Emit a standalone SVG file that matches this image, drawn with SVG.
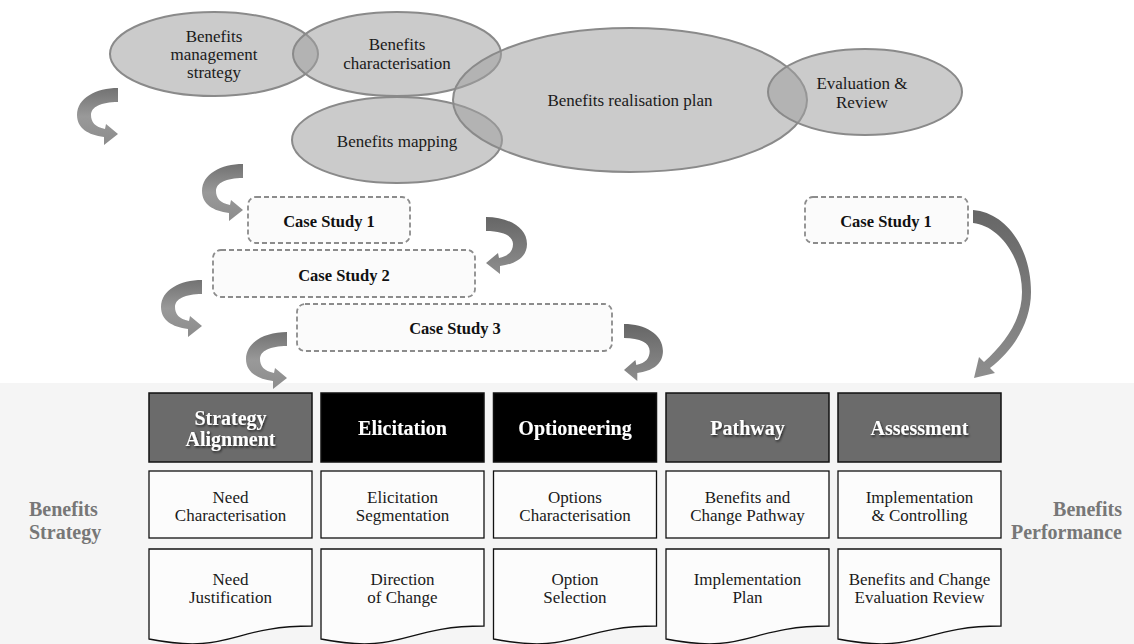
<svg xmlns="http://www.w3.org/2000/svg" width="1134" height="644" viewBox="0 0 1134 644">
  <style>
    .ell { fill: #a0a0a0; fill-opacity: 0.55; stroke: #8a8a8a; stroke-width: 2; }
    .etx { font-family: "Liberation Serif", "Times New Roman", serif; font-size: 17px; fill: #1a1a1a; text-anchor: middle; }
    .cs { fill: #fbfbfb; stroke: #8c8c8c; stroke-width: 1.8; stroke-dasharray: 5 3; }
    .cstx { font-family: "Liberation Serif", "Times New Roman", serif; font-size: 16.5px; font-weight: bold; fill: #111; text-anchor: middle; }
    .hd { stroke: #111; stroke-width: 1.5; }
    .hdgray { fill: #6b6b6b; }
    .hdblack { fill: #000; }
    .hdtx { font-family: "Liberation Serif", "Times New Roman", serif; font-size: 20px; font-weight: bold; fill: #fff; text-anchor: middle; }
    .box { fill: #fcfcfc; stroke: #111; stroke-width: 1.3; }
    .btx { font-family: "Liberation Serif", "Times New Roman", serif; font-size: 17px; fill: #1a1a1a; text-anchor: middle; }
    .side { font-family: "Liberation Serif", "Times New Roman", serif; font-size: 20px; font-weight: bold; fill: #777; }
    .arw { fill: url(#arrowShade); }
    .arwR { fill: url(#arrowShadeDark); }
  </style>
  <defs>
    <linearGradient id="arrowShade" x1="0" y1="0" x2="0" y2="1">
      <stop offset="0" stop-color="#727272"/>
      <stop offset="0.5" stop-color="#999"/>
      <stop offset="1" stop-color="#8c8c8c"/>
    </linearGradient>
    <linearGradient id="arrowShadeDark" x1="0" y1="0" x2="0" y2="1">
      <stop offset="0" stop-color="#666"/>
      <stop offset="1" stop-color="#8e8e8e"/>
    </linearGradient>
    <filter id="txtShadow" x="-10%" y="-20%" width="120%" height="150%">
      <feDropShadow dx="1" dy="1.5" stdDeviation="1" flood-color="#000" flood-opacity="0.7"/>
    </filter>
    <!-- C-shaped curved arrow, tail at origin, head pointing right -->
    <path id="cArrow" d="M0,0 C-22,0 -41,10 -41,27 C-41,40 -30,47 -14,49 L-14,57 L0,46 L-12,36 L-13,41 C-23,39 -27,34 -27,27 C-27,19 -17,14 0,14 Z"/>
  </defs>

  <!-- lower band background -->
  <rect x="0" y="383" width="1134" height="261" fill="#f5f5f5"/>

  <!-- overlapping ellipses -->
  <g id="ellipse-strategy">
    <ellipse class="ell" cx="214" cy="54" rx="104" ry="42"/>
    <text class="etx" x="214" y="42">Benefits</text>
    <text class="etx" x="214" y="60">management</text>
    <text class="etx" x="214" y="78">strategy</text>
  </g>
  <g id="ellipse-characterisation">
    <ellipse class="ell" cx="397" cy="54" rx="104" ry="42"/>
    <text class="etx" x="397" y="50">Benefits</text>
    <text class="etx" x="397" y="69">characterisation</text>
  </g>
  <g id="ellipse-mapping">
    <ellipse class="ell" cx="397" cy="140" rx="105" ry="43"/>
    <text class="etx" x="397" y="147">Benefits mapping</text>
  </g>
  <g id="ellipse-realisation">
    <ellipse class="ell" cx="630" cy="100" rx="177" ry="72"/>
    <text class="etx" x="630" y="106">Benefits realisation plan</text>
  </g>
  <g id="ellipse-evaluation">
    <ellipse class="ell" cx="865" cy="92" rx="97" ry="43"/>
    <text class="etx" x="862" y="89">Evaluation &amp;</text>
    <text class="etx" x="862" y="108">Review</text>
  </g>

  <!-- case study boxes -->
  <g id="case-study-1">
    <rect class="cs" x="248" y="197" width="162" height="46" rx="8"/>
    <text class="cstx" x="329" y="227">Case Study 1</text>
  </g>
  <g id="case-study-2">
    <rect class="cs" x="213" y="250" width="262" height="47" rx="8"/>
    <text class="cstx" x="344" y="281">Case Study 2</text>
  </g>
  <g id="case-study-3">
    <rect class="cs" x="297" y="304" width="315" height="47" rx="8"/>
    <text class="cstx" x="455" y="334">Case Study 3</text>
  </g>
  <g id="case-study-1-right">
    <rect class="cs" x="805" y="197" width="163" height="46" rx="8"/>
    <text class="cstx" x="886" y="227">Case Study 1</text>
  </g>

  <!-- curved arrows -->
  <g id="connectors">
    <use href="#cArrow" class="arw" transform="translate(118,88)"/>
    <use href="#cArrow" class="arw" transform="translate(243,164)"/>
    <use href="#cArrow" class="arw" transform="translate(202,280)"/>
    <use href="#cArrow" class="arw" transform="translate(287,332)"/>
    <use href="#cArrow" class="arwR" transform="translate(486,217) scale(-1,1)"/>
    <use href="#cArrow" class="arwR" transform="translate(624,324) scale(-0.95,1)"/>
    <path class="arwR" d="M973,210 C1008,213 1031,250 1031,292 C1031,322 1014,350 990,368 L995,373 L974,378 L979,357 L984,362 C1005,343 1022,320 1022,292 C1022,258 1000,226 973,223 Z"/>
  </g>

  <!-- stage headers -->
  <g id="hd-strategy">
    <rect class="hd hdgray" x="149" y="393" width="163" height="69"/>
    <text class="hdtx" x="230.5" y="425" filter="url(#txtShadow)">Strategy</text>
    <text class="hdtx" x="230.5" y="446" filter="url(#txtShadow)">Alignment</text>
  </g>
  <g id="hd-elicitation">
    <rect class="hd hdblack" x="321" y="393" width="163" height="69"/>
    <text class="hdtx" x="402.5" y="435" filter="url(#txtShadow)">Elicitation</text>
  </g>
  <g id="hd-optioneering">
    <rect class="hd hdblack" x="493.5" y="393" width="163" height="69"/>
    <text class="hdtx" x="575" y="435" filter="url(#txtShadow)">Optioneering</text>
  </g>
  <g id="hd-pathway">
    <rect class="hd hdgray" x="666" y="393" width="163" height="69"/>
    <text class="hdtx" x="747.5" y="435" filter="url(#txtShadow)">Pathway</text>
  </g>
  <g id="hd-assessment">
    <rect class="hd hdgray" x="838" y="393" width="163" height="69"/>
    <text class="hdtx" x="919.5" y="435" filter="url(#txtShadow)">Assessment</text>
  </g>

  <!-- second row -->
  <g id="r2-need">
    <rect class="box" x="149" y="471" width="163" height="67"/>
    <text class="btx" x="230.5" y="503">Need</text>
    <text class="btx" x="230.5" y="521">Characterisation</text>
  </g>
  <g id="r2-elicitation">
    <rect class="box" x="321" y="471" width="163" height="67"/>
    <text class="btx" x="402.5" y="503">Elicitation</text>
    <text class="btx" x="402.5" y="521">Segmentation</text>
  </g>
  <g id="r2-options">
    <rect class="box" x="493.5" y="471" width="163" height="67"/>
    <text class="btx" x="575" y="503">Options</text>
    <text class="btx" x="575" y="521">Characterisation</text>
  </g>
  <g id="r2-pathway">
    <rect class="box" x="666" y="471" width="163" height="67"/>
    <text class="btx" x="747.5" y="503">Benefits and</text>
    <text class="btx" x="747.5" y="521">Change Pathway</text>
  </g>
  <g id="r2-implementation">
    <rect class="box" x="838" y="471" width="163" height="67"/>
    <text class="btx" x="919.5" y="503">Implementation</text>
    <text class="btx" x="919.5" y="521">&amp; Controlling</text>
  </g>

  <!-- third row: document shapes -->
  <g id="r3-justification">
    <path class="box" d="M149,549 H312 V626 C230.5,626 230.5,655 149,639 Z"/>
    <text class="btx" x="230.5" y="585">Need</text>
    <text class="btx" x="230.5" y="603">Justification</text>
  </g>
  <g id="r3-direction">
    <path class="box" d="M321,549 H484 V626 C402.5,626 402.5,655 321,639 Z"/>
    <text class="btx" x="402.5" y="585">Direction</text>
    <text class="btx" x="402.5" y="603">of Change</text>
  </g>
  <g id="r3-selection">
    <path class="box" d="M493.5,549 H656.5 V626 C575,626 575,655 493.5,639 Z"/>
    <text class="btx" x="575" y="585">Option</text>
    <text class="btx" x="575" y="603">Selection</text>
  </g>
  <g id="r3-plan">
    <path class="box" d="M666,549 H829 V626 C747.5,626 747.5,655 666,639 Z"/>
    <text class="btx" x="747.5" y="585">Implementation</text>
    <text class="btx" x="747.5" y="603">Plan</text>
  </g>
  <g id="r3-review">
    <path class="box" d="M838,549 H1001 V626 C919.5,626 919.5,655 838,639 Z"/>
    <text class="btx" x="919.5" y="585">Benefits and Change</text>
    <text class="btx" x="919.5" y="603">Evaluation Review</text>
  </g>

  <!-- side labels -->
  <g id="label-strategy">
    <text class="side" x="29" y="516">Benefits</text>
    <text class="side" x="29" y="539">Strategy</text>
  </g>
  <g id="label-performance">
    <text class="side" x="1122" y="516" text-anchor="end">Benefits</text>
    <text class="side" x="1122" y="539" text-anchor="end">Performance</text>
  </g>
</svg>
